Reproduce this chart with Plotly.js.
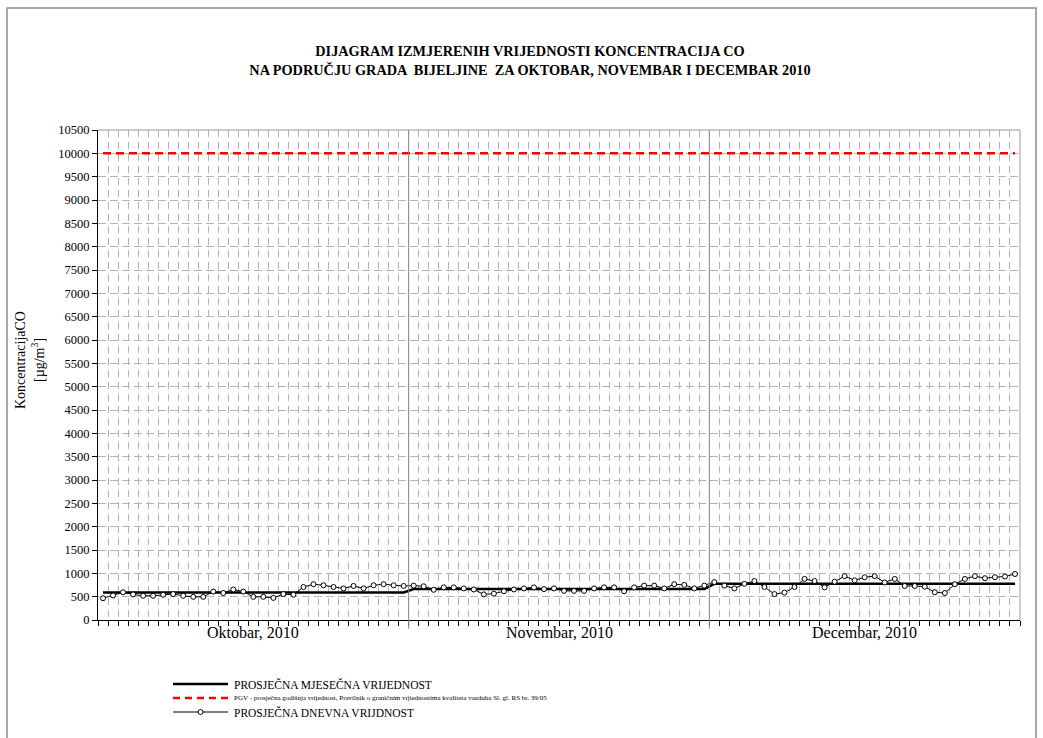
<!DOCTYPE html>
<html>
<head>
<meta charset="utf-8">
<script src="https://cdn.plot.ly/plotly-3.0.1.min.js"></script>
<style>html,body{margin:0;padding:0;background:#fff;}#chart{width:1043px;height:738px;}</style>
</head>
<body>
<div id="chart"></div>
<script>
// ---- data ----
const monthLabels = ["Oktobar, 2010", "Novembar, 2010", "Decembar, 2010"];
const monthDays = [31, 30, 31];
const octDaily = [466,526,594,549,519,519,541,556,519,496,496,609,579,654,609,496,496,474,556,541,707,767,744,707,677,729,677,744,767,744,729];
const novDaily = [737,722,647,699,699,677,654,549,564,617,654,677,699,662,677,624,624,624,677,699,699,617,699,737,737,677,767,752,677,737];
const decDaily = [812,737,677,775,835,707,556,587,707,880,835,699,820,940,850,917,940,805,880,729,729,714,594,579,767,880,940,895,917,932,985];
const monthAvg = [590, 665, 775];
const pgvValue = 10000;
const yTickStep = 500;
const yMax = 10500;
const legendNames = [
  "PROSJEČNA MJESEČNA VRIJEDNOST",
  "PGV - prosječna godišnja vrijednost, Pravilnik o graničnim vrjiednostima kvaliteta vazduha Sl. gl. RS br. 39/05",
  "PROSJEČNA DNEVNA VRIJDNOST"
];

// ---- build series ----
const daily = octDaily.concat(novDaily, decDaily);
const days = daily.map((v, i) => i + 1);
const avgSeries = [];
monthDays.forEach((n, m) => { for (let k = 0; k < n; k++) avgSeries.push(monthAvg[m]); });
const pgvSeries = days.map(() => pgvValue);
const nDays = daily.length;

const bounds = [0.5];
monthDays.forEach(n => bounds.push(bounds[bounds.length - 1] + n));
const centers = monthDays.map((n, i) => (bounds[i] + bounds[i + 1]) / 2);

// ---- layout helpers (pixel -> paper) ----
const W = 1043, H = 738, L = 98, R = 1020, T = 130, B = 620;
const px = x => (x - L) / (R - L);
const py = y => (B - y) / (B - T);
const FONT = "'Liberation Serif', 'Times New Roman', Times, serif";

const traces = [
  { x: days, y: pgvSeries, type: "scatter", mode: "lines", name: legendNames[1],
    line: { color: "#ff0000", width: 2.5, dash: "8px,5px" }, showlegend: false },
  { x: days, y: avgSeries, type: "scatter", mode: "lines", name: legendNames[0],
    line: { color: "#000000", width: 2.5 }, showlegend: false },
  { x: days, y: daily, type: "scatter", mode: "lines+markers", name: legendNames[2],
    line: { color: "#000000", width: 1 },
    marker: { symbol: "circle", size: 5, color: "#ffffff", line: { color: "#000000", width: 1 } },
    showlegend: false }
];

const shapes = [];
shapes.push({ type: "rect", xref: "paper", yref: "paper", x0: px(7), x1: px(1036), y0: py(745), y1: py(8),
  line: { color: "#8c8c8c", width: 1.5 }, layer: "below" });
shapes.push({ type: "line", xref: "paper", yref: "paper", x0: 0, x1: 1, y0: 1, y1: 1, line: { color: "#999999", width: 1 } });
shapes.push({ type: "line", xref: "paper", yref: "paper", x0: 1, x1: 1, y0: 0, y1: 1, line: { color: "#999999", width: 1 } });
for (let i = 1; i < bounds.length - 1; i++) {
  shapes.push({ type: "line", xref: "x", yref: "paper", x0: bounds[i], x1: bounds[i], y0: -0.018, y1: 1,
    line: { color: "#888888", width: 1 }, layer: "above" });
}
const legY = [684, 698, 712];
const legX0 = 173, legX1 = 228, legTX = 232;
shapes.push({ type: "line", xref: "paper", yref: "paper", x0: px(legX0), x1: px(legX1), y0: py(legY[0]), y1: py(legY[0]),
  line: { color: "#000", width: 2.5 } });
shapes.push({ type: "line", xref: "paper", yref: "paper", x0: px(legX0), x1: px(legX1), y0: py(legY[1]), y1: py(legY[1]),
  line: { color: "#ff0000", width: 2.5, dash: "7px,5px" } });
shapes.push({ type: "line", xref: "paper", yref: "paper", x0: px(legX0), x1: px(legX1), y0: py(legY[2]), y1: py(legY[2]),
  line: { color: "#000", width: 1 } });
const cx = (legX0 + legX1) / 2;
shapes.push({ type: "circle", xref: "paper", yref: "paper", x0: px(cx - 2.5), x1: px(cx + 2.5), y0: py(legY[2] + 2.5), y1: py(legY[2] - 2.5),
  fillcolor: "#fff", line: { color: "#000", width: 1 } });

const annotations = [];
monthLabels.forEach((t, i) => annotations.push({
  text: t, x: centers[i], xref: "x", y: py(632), yref: "paper", showarrow: false,
  xanchor: "center", yanchor: "middle", font: { family: FONT, size: 16, color: "#000" } }));
legendNames.forEach((t, i) => annotations.push({
  text: t, x: px(legTX), xref: "paper", y: py(legY[i]), yref: "paper", showarrow: false,
  xanchor: "left", yanchor: "middle", font: { family: FONT, size: i === 1 ? 7 : 11.5, color: "#000" } }));
annotations.push({ text: "KoncentracijaCO", x: px(20), xref: "paper", y: py(360), yref: "paper", showarrow: false,
  textangle: -90, xanchor: "center", yanchor: "middle", font: { family: FONT, size: 14, color: "#000" } });
annotations.push({ text: "[µg/m<sup>3</sup>]", x: px(38), xref: "paper", y: py(360), yref: "paper", showarrow: false,
  textangle: -90, xanchor: "center", yanchor: "middle", font: { family: FONT, size: 14, color: "#000" } });

const layout = {
  width: W, height: H,
  margin: { l: L, r: W - R, t: T, b: H - B, pad: 0 },
  paper_bgcolor: "#ffffff", plot_bgcolor: "#ffffff",
  showlegend: false,
  font: { family: FONT, color: "#000" },
  title: { text: "<b>DIJAGRAM IZMJERENIH VRIJEDNOSTI KONCENTRACIJA CO<br>NA PODRUČJU GRADA  BIJELJINE  ZA OKTOBAR, NOVEMBAR I DECEMBAR 2010</b>",
    xref: "container", x: 530 / W, xanchor: "center", yref: "container", y: 1 - 56 / H, yanchor: "middle",
    font: { family: FONT, size: 14.3, color: "#000" } },
  xaxis: {
    type: "linear", range: [0.5, nDays + 0.5], tick0: 0.5, dtick: 1,
    showticklabels: false, ticks: "outside", ticklen: 5, tickcolor: "#000", tickwidth: 1,
    showline: true, linecolor: "#000", linewidth: 1,
    showgrid: true, gridcolor: "#b4b4b4", gridwidth: 1, griddash: "7px,5px",
    zeroline: false, fixedrange: true
  },
  yaxis: {
    range: [0, yMax], tick0: 0, dtick: yTickStep, tickformat: "d",
    ticks: "outside", ticklen: 5, tickcolor: "#000", tickwidth: 1,
    showline: true, linecolor: "#000", linewidth: 1,
    showgrid: true, gridcolor: "#b4b4b4", gridwidth: 1, griddash: "8px,4px",
    zeroline: false, tickfont: { family: FONT, size: 12.5, color: "#000" }, fixedrange: true
  },
  shapes: shapes,
  annotations: annotations
};

Plotly.newPlot("chart", traces, layout, { displayModeBar: false, staticPlot: true });
</script>
</body>
</html>
